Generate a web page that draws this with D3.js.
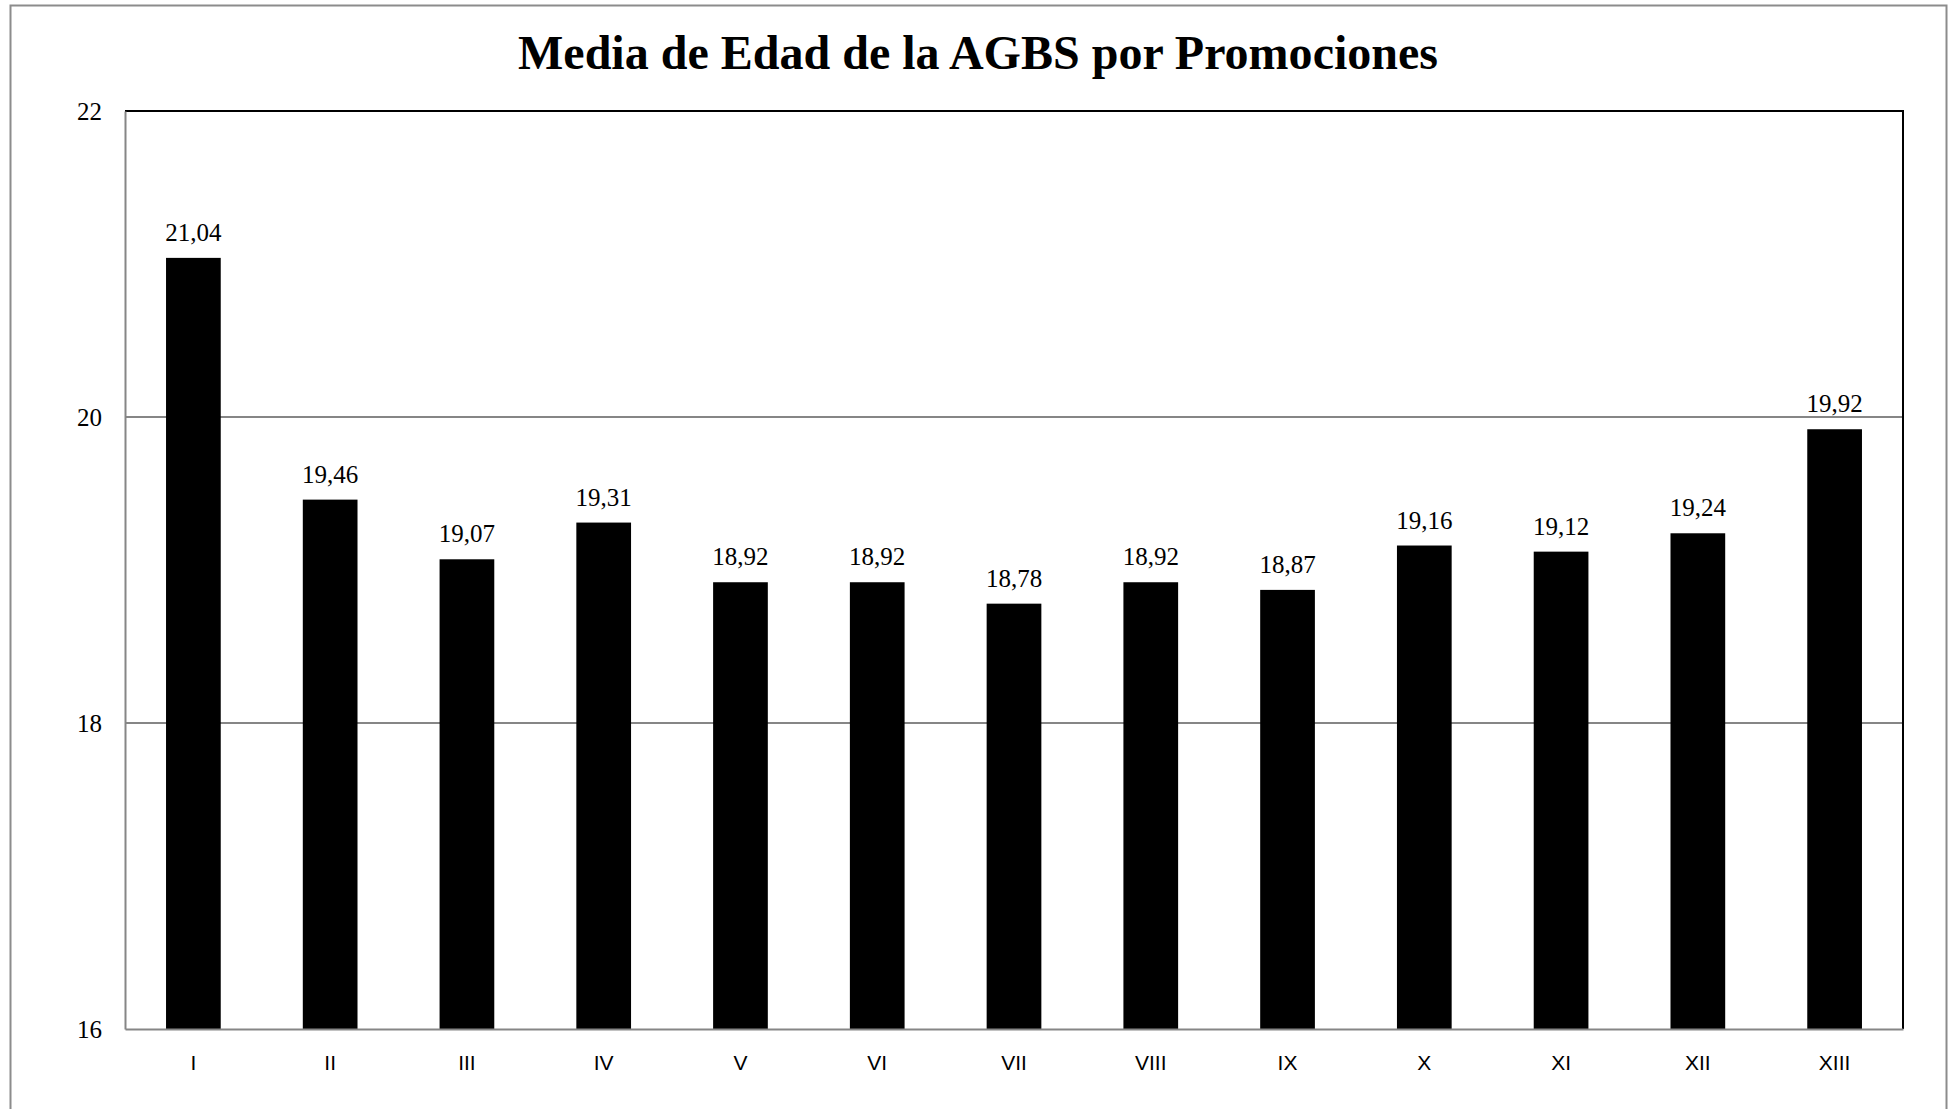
<!DOCTYPE html>
<html>
<head>
<meta charset="utf-8">
<script src="https://cdn.jsdelivr.net/npm/d3@7"></script>
<style>
  html, body { margin: 0; padding: 0; background: #fff; }
  svg { display: block; }
</style>
</head>
<body>
<div id="chart"></div>
<script>
"use strict";

// promociones (roman numerals) and mean age
var promociones = ["I", "II", "III", "IV", "V", "VI", "VII", "VIII", "IX", "X", "XI", "XII", "XIII"];
var mediaEdad = [21.04, 19.46, 19.07, 19.31, 18.92, 18.92, 18.78, 18.92, 18.87, 19.16, 19.12, 19.24, 19.92];
var yTicks = [16, 18, 20, 22];
var titulo = "Media de Edad de la AGBS por Promociones";

var W = 1954, H = 1109;
var margin = { top: 111, right: 51, bottom: 80, left: 125 };
var plotW = W - margin.left - margin.right;
var plotH = H - margin.top - margin.bottom;
var serif = "'Liberation Serif', 'Times New Roman', Times, serif";

var svg = d3.select("#chart").append("svg")
  .attr("width", W)
  .attr("height", H);

// outer chart frame
svg.append("rect")
  .attr("x", 10.5).attr("y", 5.5)
  .attr("width", 1936).attr("height", 1110)
  .attr("fill", "none")
  .attr("stroke", "#8c8c8c")
  .attr("stroke-width", 2);

svg.append("text")
  .attr("x", 978)
  .attr("y", 69)
  .attr("text-anchor", "middle")
  .attr("textLength", 920)
  .attr("lengthAdjust", "spacingAndGlyphs")
  .attr("font-family", serif)
  .attr("font-weight", "bold")
  .attr("font-size", 48)
  .text(titulo);

var g = svg.append("g")
  .attr("transform", "translate(" + margin.left + "," + margin.top + ")");

var x = d3.scaleBand()
  .domain(promociones)
  .range([0, plotW])
  .paddingInner(0.6)
  .paddingOuter(0.3);

var y = d3.scaleLinear()
  .domain([16, 22])
  .range([plotH, 0]);

// gridlines
g.selectAll(".grid")
  .data(yTicks.filter(function (d) { return d > 16 && d < 22; }))
  .enter().append("line")
  .attr("x1", 0).attr("x2", plotW)
  .attr("y1", function (d) { return y(d); })
  .attr("y2", function (d) { return y(d); })
  .attr("stroke", "#868686")
  .attr("stroke-width", 2);

// top and right frame of the plot area
g.append("path")
  .attr("d", "M0,0H" + plotW + "V" + plotH)
  .attr("fill", "none")
  .attr("stroke", "#000")
  .attr("stroke-width", 2);

// bars
g.selectAll(".bar")
  .data(mediaEdad)
  .enter().append("rect")
  .attr("x", function (d, i) { return x(promociones[i]); })
  .attr("width", x.bandwidth())
  .attr("y", function (d) { return y(d); })
  .attr("height", function (d) { return plotH - y(d); })
  .attr("fill", "#000");

// value labels
g.selectAll(".val")
  .data(mediaEdad)
  .enter().append("text")
  .attr("x", function (d, i) { return x(promociones[i]) + x.bandwidth() / 2; })
  .attr("y", function (d) { return y(d) - 17; })
  .attr("text-anchor", "middle")
  .attr("font-family", serif)
  .attr("font-size", 25)
  .text(function (d) { return d.toFixed(2).replace(".", ","); });

// y axis
var yAxis = d3.axisLeft(y).tickValues(yTicks).tickFormat(d3.format("d"))
  .tickSize(0).tickPadding(23);
var ya = g.append("g").call(yAxis)
  .attr("font-family", serif)
  .attr("font-size", 25);
ya.select(".domain").attr("stroke", "#868686").attr("stroke-width", 2);
ya.selectAll("text").attr("fill", "#000");

// x axis
var xAxis = d3.axisBottom(x).tickSize(0).tickPadding(26);
var xa = g.append("g")
  .attr("transform", "translate(0," + plotH + ")")
  .call(xAxis)
  .attr("font-family", "'Liberation Sans', Arial, sans-serif")
  .attr("font-size", 21);
xa.select(".domain").attr("stroke", "#868686").attr("stroke-width", 2);
xa.selectAll("text").attr("fill", "#000");
</script>
</body>
</html>
